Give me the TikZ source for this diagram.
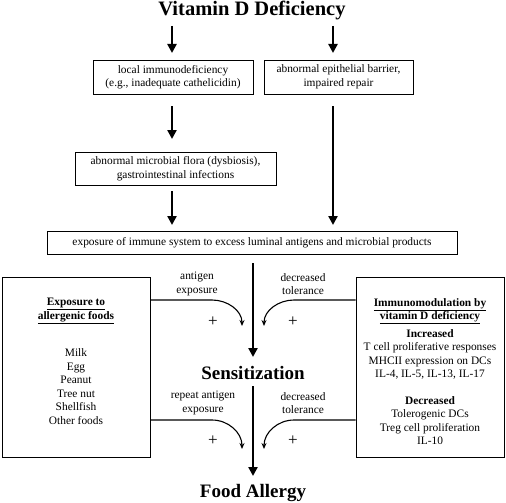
\documentclass[tikz,border=0pt]{standalone}
\usepackage{fontspec}
\setmainfont{Liberation Serif}
\usetikzlibrary{arrows.meta}
\tikzset{
    box/.style={draw, line width=0.8pt, align=center, inner sep=0pt,
    	font=\fontsize{11.4}{13.5}\selectfont},
    txt/.style={align=center, inner sep=0pt, font=\fontsize{11.4}{13.5}\selectfont},
    head/.style={inner sep=0pt, anchor=base, font=\fontsize{19}{22}\selectfont\bfseries},
    arr/.style={line width=2.6pt, -{Triangle[length=9pt, width=9pt]}},
    curvearr/.style={line width=1.1pt, -{Stealth[length=6pt, width=5pt]}},
    plus/.style={inner sep=0pt, font=\fontsize{17}{17}\selectfont},
    every picture/.append style={x=1pt, y=-1pt}
}

\begin{document}
\begin{tikzpicture}
	\useasboundingbox (0,0) rectangle (506,503);
	\node (top) [head, font=\fontsize{20.5}{24}\selectfont\bfseries] at (252, 16) {Vitamin D Deficiency};
	\node (1) [box, minimum width=160pt, minimum height=34pt] at (173, 77)
		{local immunodeficiency\\(e.g., inadequate cathelicidin)};
	\node (2) [box, minimum width=149pt, minimum height=34pt] at (338.5, 77)
		{abnormal epithelial barrier,\\impaired repair};
	\node (3) [box, minimum width=201pt, minimum height=33pt] at (175.5, 168.5)
		{abnormal microbial flora (dysbiosis),\\gastrointestinal infections};
	\node (4) [box, minimum width=410pt, minimum height=23pt] at (252, 243)
		{exposure of immune system to excess luminal antigens and microbial products};
	\node (5) [draw, line width=0.8pt, minimum width=148pt, minimum height=180pt] at (76, 367) {};
	\node (6) [draw, line width=0.8pt, minimum width=148pt, minimum height=180pt] at (430, 367) {};
	\node (sens) [head] at (253, 379) {Sensitization};
	\node (fa) [head] at (253, 497) {Food Allergy};

	% text in the side boxes
	\node (5t) [txt, anchor=north] at (76, 298) {\textbf{\underline{Exposure to}}\\
		\textbf{\underline{allergenic foods}}\\[24pt]
		Milk\\Egg\\Peanut\\Tree nut\\Shellfish\\Other foods};
	\node (6t) [txt, anchor=north] at (430, 298) {\textbf{\underline{Immunomodulation by}}\\
		\textbf{\underline{vitamin D deficiency}}\\[4pt]
		\textbf{Increased}\\T cell proliferative responses\\MHCII expression on DCs\\
		IL-4, IL-5, IL-13, IL-17\\[13pt]
		\textbf{Decreased}\\Tolerogenic DCs\\Treg cell proliferation\\IL-10};

	% labels on the curved arrows
	\node (a1) [txt] at (197, 284) {antigen\\exposure};
	\node (a2) [txt] at (303, 284) {decreased\\tolerance};
	\node (a3) [txt] at (203, 403) {repeat antigen\\exposure};
	\node (a4) [txt] at (303, 403) {decreased\\tolerance};
	\node (p1) [plus] at (213, 322) {+};
	\node (p2) [plus] at (293, 322) {+};
	\node (p3) [plus] at (213, 441) {+};
	\node (p4) [plus] at (293, 441) {+};

	\coordinate (l1) at (172, 26); \coordinate (l2) at (172, 53);
	\coordinate (r1) at (333, 26); \coordinate (r2) at (333, 53);
	\coordinate (l3) at (172, 106); \coordinate (l4) at (172, 139);
	\coordinate (l5) at (172, 191); \coordinate (l6) at (172, 225);
	\coordinate (r3) at (333, 106); \coordinate (r4) at (333, 225);
	\coordinate (c1) at (253, 263); \coordinate (c2) at (253, 357);
	\coordinate (c3) at (253, 386); \coordinate (c4) at (253, 476);
	\coordinate (t1) at (242, 326); \coordinate (t2) at (264, 326);
	\coordinate (t3) at (242, 449); \coordinate (t4) at (264, 449);

	\draw[arr] (l1) -- (l2); \draw[arr] (r1) -- (r2);
	\draw[arr] (l3) -- (l4); \draw[arr] (l5) -- (l6);
	\draw[arr] (r3) -- (r4);
	\draw[arr] (c1) -- (c2); \draw[arr] (c3) -- (c4);

	\draw[curvearr] (5.east |- 0,300) -- (212, 300) to[out=0, in=90] (t1);
	\draw[curvearr] (6.west |- 0,300) -- (294, 300) to[out=180, in=90] (t2);
	\draw[curvearr] (5.east |- 0,420) -- (212, 420) to[out=0, in=90] (t3);
	\draw[curvearr] (6.west |- 0,420) -- (294, 420) to[out=180, in=90] (t4);
\end{tikzpicture}
\end{document}
